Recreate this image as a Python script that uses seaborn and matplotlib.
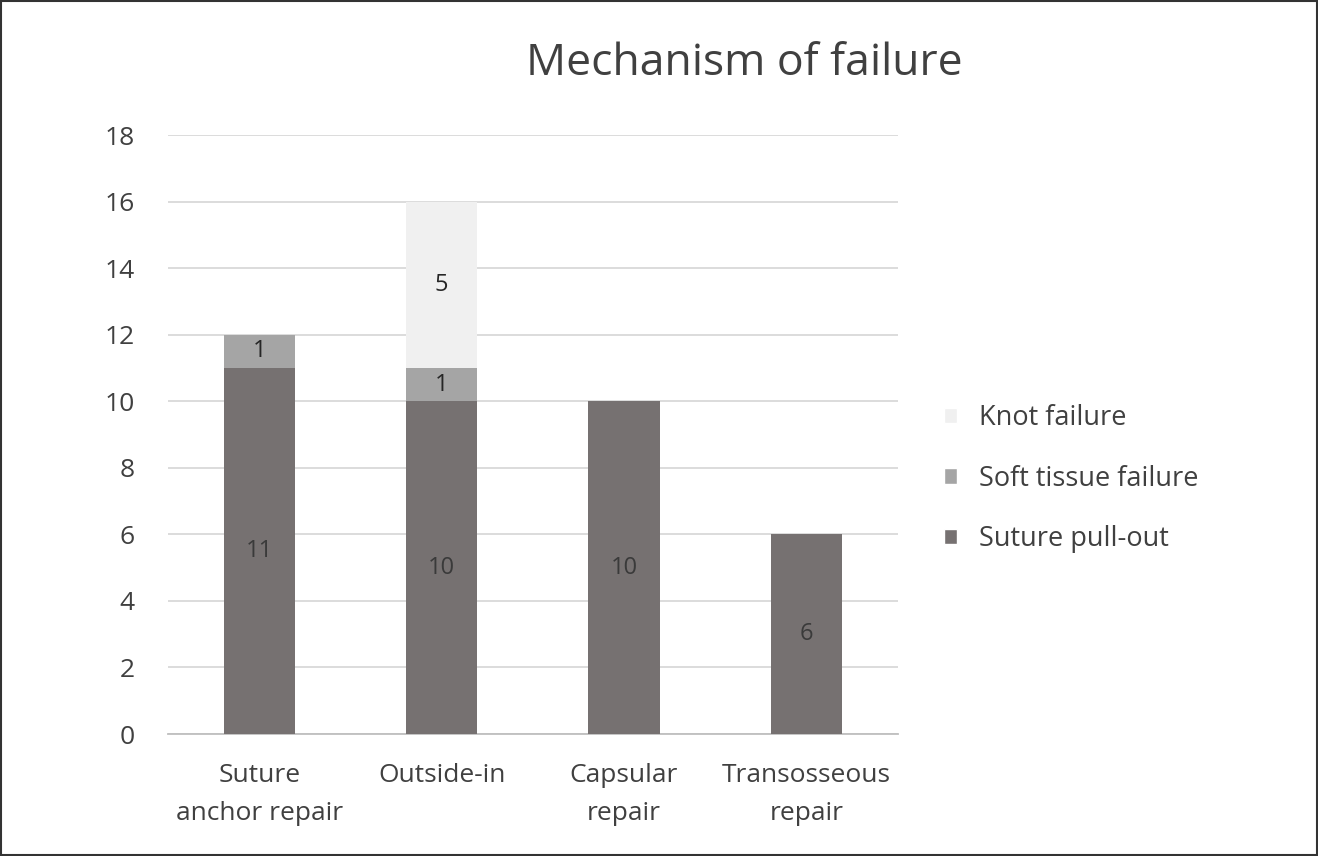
import matplotlib
matplotlib.use("Agg")
import matplotlib.pyplot as plt
import seaborn as sns
import numpy as np
import pandas as pd
from matplotlib.patches import Rectangle, Patch

categories = ["Suture\nanchor repair", "Outside-in", "Capsular\nrepair", "Transosseous\nrepair"]
suture_pullout = [11, 10, 10, 6]
soft_tissue = [1, 1, 0, 0]
knot_failure = [0, 5, 0, 0]
series_names = ["Suture pull-out", "Soft tissue failure", "Knot failure"]
colors = ["#767171", "#a5a5a5", "#f0f0f0"]
yticks = [0, 2, 4, 6, 8, 10, 12, 14, 16, 18]

sns.set_theme(style="white")
plt.rcParams["font.family"] = ["Open Sans", "DejaVu Sans"]

fig = plt.figure(figsize=(13.18, 8.56), dpi=100)
ax = fig.add_axes([0.1275, 0.1425, 0.5535, 0.6995])

series = [suture_pullout, soft_tissue, knot_failure]
cum = np.cumsum(np.array(series, dtype=float), axis=0)

# draw from top of stack downward so lower segments overlay
for i in range(len(series) - 1, -1, -1):
    df = pd.DataFrame({"cat": categories, "val": cum[i]})
    sns.barplot(data=df, x="cat", y="val", color=colors[i], width=0.39,
                saturation=1, ax=ax, zorder=3, linewidth=0)

# value labels
for i, vals in enumerate(series):
    base = cum[i] - np.array(vals)
    for j, v in enumerate(vals):
        if v > 0:
            ax.text(j, base[j] + v / 2, str(v), ha="center", va="center",
                    fontsize=17, color="#262626" if i > 0 else "#3a3a3a", zorder=4)

ax.set_ylim(0, 18)
ax.set_xlim(-0.5, 3.5)
ax.set_yticks(yticks)
ax.set_yticklabels([str(t) for t in yticks], fontsize=19, color="#404040")
ax.tick_params(axis="x", labelsize=19, labelcolor="#404040", length=0, pad=21)
ax.tick_params(axis="y", length=0, pad=24)
for lab in ax.get_xticklabels():
    lab.set_verticalalignment("top")
    lab.set_linespacing(1.65)
ax.set_xlabel("")
ax.set_ylabel("")
ax.yaxis.grid(True, color="#d9d9d9", linewidth=1.3, zorder=0)
ax.set_axisbelow(True)
for s in ["top", "right", "left"]:
    ax.spines[s].set_visible(False)
ax.spines["bottom"].set_color("#bfbfbf")
ax.spines["bottom"].set_linewidth(1.3)

fig.text(0.565, 0.925, "Mechanism of failure", ha="center", va="center",
         fontsize=32, color="#404040")

handles = [Patch(facecolor=colors[i], label=series_names[i]) for i in [2, 1, 0]]
leg = fig.legend(handles=handles, loc="center left", bbox_to_anchor=(0.716, 0.441),
                 frameon=False, fontsize=19.5, labelspacing=1.2, handlelength=0.5,
                 handleheight=0.5, handletextpad=0.8, borderaxespad=0, borderpad=0)
for t in leg.get_texts():
    t.set_color("#404040")

fig.patches.append(Rectangle((0.001, 0.001), 0.998, 0.998, transform=fig.transFigure,
                             fill=False, edgecolor="#333333", linewidth=1.5))

fig.savefig("out.png", dpi=100)
